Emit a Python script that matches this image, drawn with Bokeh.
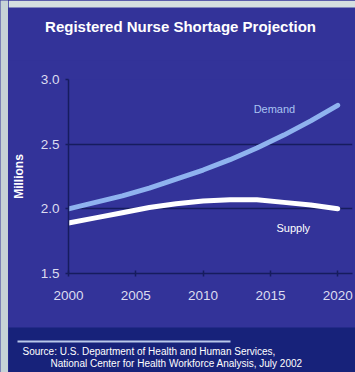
from bokeh.plotting import figure
from bokeh.layouts import row, column
from bokeh.models import FixedTicker, PrintfTickFormatter, Label, Range1d
from bokeh.core.properties import value
from bokeh.embed import file_html
from bokeh.resources import INLINE

# ---- data ----
years = [2000, 2002, 2004, 2006, 2008, 2010, 2012, 2014, 2016, 2018, 2020]
demand = [2.00, 2.05, 2.10, 2.16, 2.23, 2.30, 2.38, 2.47, 2.57, 2.68, 2.80]
supply = [1.89, 1.93, 1.97, 2.01, 2.04, 2.06, 2.07, 2.07, 2.05, 2.03, 2.00]
x_ticks = [2000, 2005, 2010, 2015, 2020]
y_ticks = [1.5, 2.0, 2.5, 3.0]
title_text = "Registered Nurse Shortage Projection"
y_label = "Millions"
source_lines = ["Source: U.S. Department of Health and Human Services,",
                "National Center for Health Workforce Analysis, July 2002"]

BLUE = "#333399"
NAVY = "#17227a"
GRID = "#161c5e"
DEMAND_C = "#8fb3ef"
TICK_C = "#dcdcf0"
STRIP_L = "#c6d3d6"
STRIP_T = "#d5dfe0"

INNER_W = 347


def no_align(f):
    if "frame_align" in f.properties():
        f.frame_align = False
    return f


def blank(w, h, fill):
    f = figure(width=w, height=h, output_backend="svg", toolbar_location=None,
               x_range=Range1d(0, w), y_range=Range1d(0, h),
               x_axis_location=None, y_axis_location=None, min_border=0)
    f.border_fill_color = fill
    f.background_fill_color = fill
    f.outline_line_color = None
    f.grid.visible = False
    return no_align(f)


# left light strip
left = blank(8, 372, STRIP_L)

# header with title
HH = 60
head = blank(INNER_W, HH, BLUE)
head.quad(left=0, right=INNER_W, bottom=HH - 7, top=HH, fill_color=STRIP_T,
          line_color=None)
head.text(x=[172], y=[HH - 26], text=[title_text], text_color="white",
          text_font=value("Liberation Sans"), text_font_style="bold",
          text_font_size="15px", text_align="center", text_baseline="middle")

# main chart
MH = 267
p = figure(width=INNER_W, height=MH, output_backend="svg", toolbar_location=None,
           x_range=Range1d(2000, 2021.1), y_range=Range1d(1.5, 3.0),
           min_border_left=59, min_border_right=3, min_border_top=19,
           min_border_bottom=54)
no_align(p)
p.border_fill_color = BLUE
p.background_fill_color = BLUE
p.outline_line_color = None

p.xaxis.ticker = FixedTicker(ticks=x_ticks)
p.yaxis.ticker = FixedTicker(ticks=y_ticks)
p.xaxis.formatter = PrintfTickFormatter(format="%d")
p.yaxis.formatter = PrintfTickFormatter(format="%.1f")
for ax in (p.xaxis[0], p.yaxis[0]):
    ax.axis_line_color = GRID
    ax.axis_line_width = 1.5
    ax.major_tick_line_color = GRID
    ax.major_tick_line_width = 1.5
    ax.minor_tick_line_color = None
    ax.major_label_text_color = TICK_C
    ax.major_label_text_font = "Liberation Sans"
    ax.major_label_text_font_size = "13.5px"
p.xaxis.major_tick_in = 3
p.xaxis.major_tick_out = 3
p.xaxis.major_label_standoff = 14
p.yaxis.major_tick_in = 0
p.yaxis.major_tick_out = 3
p.yaxis.major_label_standoff = 6
p.yaxis.axis_label = y_label
p.yaxis.axis_label_text_color = "white"
p.yaxis.axis_label_text_font = "Liberation Sans"
p.yaxis.axis_label_text_font_style = "bold"
p.yaxis.axis_label_text_font_size = "12px"
p.yaxis.axis_label_standoff = 12

p.xgrid.grid_line_color = None
p.ygrid.grid_line_color = GRID
p.ygrid.grid_line_width = 1.5
p.ygrid.ticker = FixedTicker(ticks=[2.0, 2.5, 3.0])

p.line(years, demand, line_color=DEMAND_C, line_width=5, line_cap="round")
p.line(years, supply, line_color="white", line_width=5, line_cap="round")

p.add_layout(Label(x=2015.3, y=2.77, text="Demand", text_color="#a9c3f2",
                   text_font="Liberation Sans", text_font_size="11px",
                   text_align="center", text_baseline="middle"))
p.add_layout(Label(x=2016.7, y=1.85, text="Supply", text_color="white",
                   text_font="Liberation Sans", text_font_size="11px",
                   text_align="center", text_baseline="middle"))

# footer with source
FH = 45
foot = blank(INNER_W, FH, NAVY)
foot.segment(x0=[9], y0=[FH - 14], x1=[222], y1=[FH - 14],
             line_color="#b9c8ea", line_width=2)
foot.text(x=[14, 42], y=[FH - 24, FH - 36], text=source_lines,
          text_color="white", text_font=value("Liberation Sans"),
          text_font_size="10px", text_align="left", text_baseline="middle")

inner = column(head, p, foot, spacing=0, styles={"background-color": BLUE})
layout = row(left, inner, spacing=0, styles={"background-color": BLUE})

open("out.html", "w").write(file_html(layout, INLINE))
